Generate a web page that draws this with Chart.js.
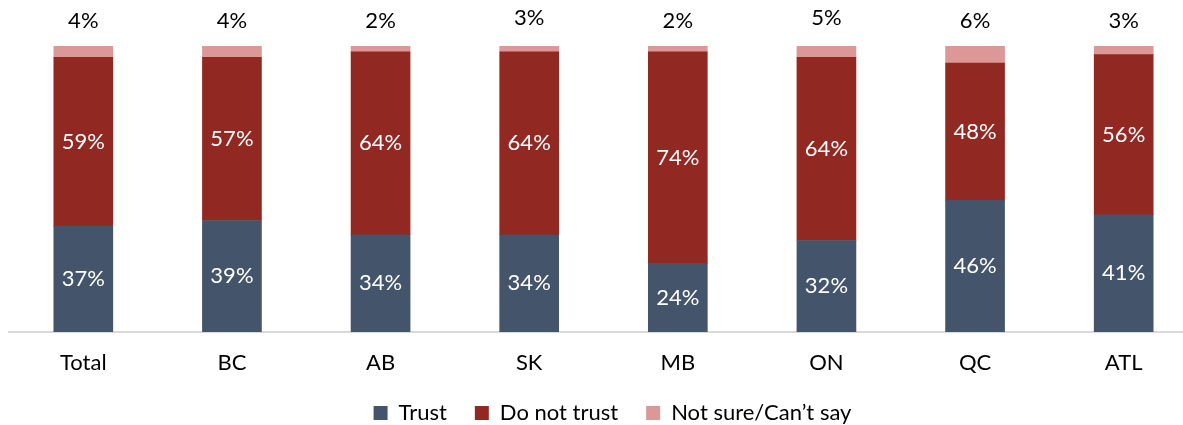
<!DOCTYPE html>
<html>
<head>
<meta charset="utf-8">
<script src="https://cdn.jsdelivr.net/npm/chart.js@4/dist/chart.umd.min.js"></script>
<style>
  html, body { margin: 0; padding: 0; background: #fff; overflow: hidden; }
  #wrap { width: 1200px; height: 425px; }
</style>
</head>
<body>
<div id="wrap"><canvas id="c" width="1200" height="425"></canvas></div>
<script>
const categories = ["Total", "BC", "AB", "SK", "MB", "ON", "QC", "ATL"];
const trust = [37, 39, 34, 34, 24, 32, 46, 41];
const doNotTrust = [59, 57, 64, 64, 74, 64, 48, 56];
const notSure = [4, 4, 2, 3, 2, 5, 6, 3];
const seriesNames = ["Trust", "Do not trust", "Not sure/Can\u2019t say"];
const colors = ["#44546A", "#922822", "#DC9797"];

const FONT = "Lato, 'Liberation Sans', sans-serif";

const labelPlugin = {
  id: 'segLabels',
  afterLayout(chart) {
    if (chart.legend) { chart.legend.left += 9; chart.legend.right += 9; }
  },
  afterDatasetsDraw(chart) {
    const ctx = chart.ctx;
    ctx.save();
    ctx.font = "22px " + FONT;
    ctx.textAlign = 'center';
    ctx.textBaseline = 'middle';
    chart.data.datasets.forEach((ds, di) => {
      const meta = chart.getDatasetMeta(di);
      meta.data.forEach((bar, i) => {
        const v = ds.data[i];
        const txt = v + '%';
        if (di === 2) {
          ctx.fillStyle = '#000';
          ctx.fillText(txt, bar.x, bar.y - 25);
        } else {
          ctx.fillStyle = '#fff';
          ctx.fillText(txt, bar.x, (bar.y + bar.base) / 2);
        }
      });
    });
    ctx.restore();
  }
};

new Chart(document.getElementById('c'), {
  type: 'bar',
  data: {
    labels: categories,
    datasets: [
      { label: seriesNames[0], data: trust, backgroundColor: colors[0] },
      { label: seriesNames[1], data: doNotTrust, backgroundColor: colors[1] },
      { label: seriesNames[2], data: notSure, backgroundColor: colors[2] }
    ]
  },
  options: {
    responsive: false,
    animation: false,
    layout: { padding: { top: 46, left: 9, right: 2, bottom: -9 } },
    datasets: { bar: { barThickness: 59, borderWidth: 0 } },
    scales: {
      x: {
        stacked: true,
        grid: { display: false, drawTicks: false },
        border: { color: '#D9D9D9', width: 2 },
        ticks: { color: '#000', font: { family: FONT, size: 22 }, padding: 18 },
        afterFit(scale) { scale.height = 42; }
      },
      y: {
        stacked: true,
        display: false,
        min: 0,
        max: 100
      }
    },
    plugins: {
      tooltip: { enabled: false },
      legend: {
        position: 'bottom',
        labels: {
          color: '#000',
          font: { family: FONT, size: 22 },
          boxWidth: 14,
          boxHeight: 14,
          padding: 28
        }
      }
    }
  },
  plugins: [labelPlugin]
});
</script>
</body>
</html>
